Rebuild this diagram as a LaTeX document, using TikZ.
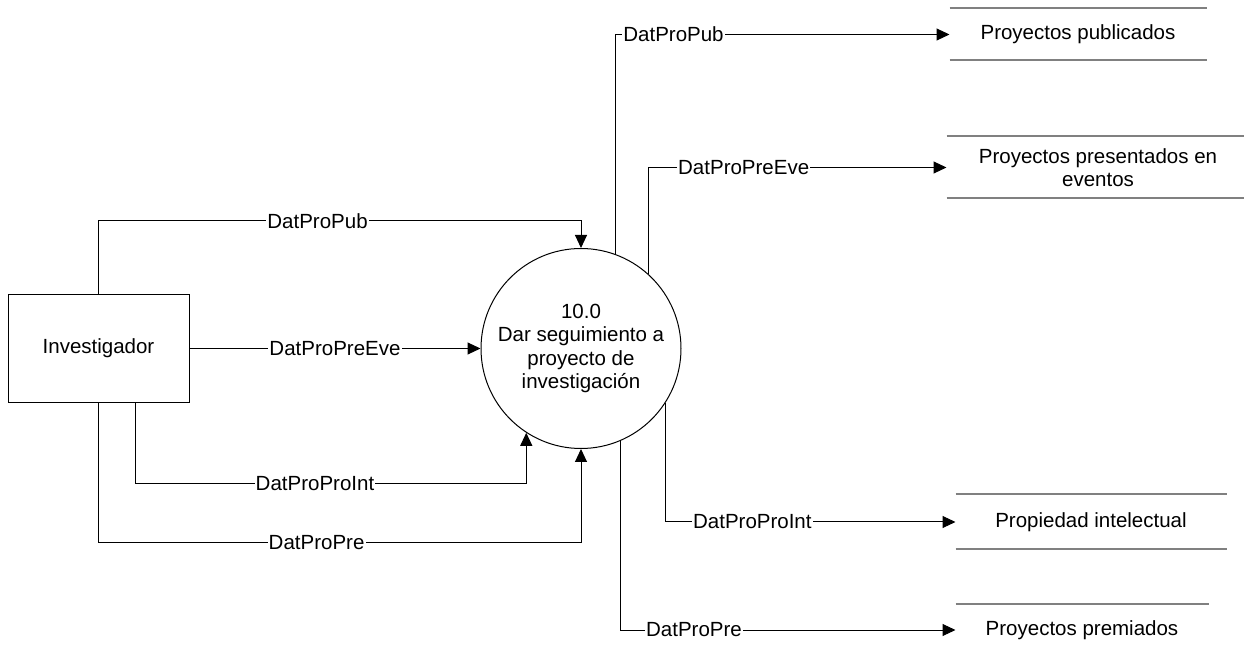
\documentclass[tikz,border=0pt]{standalone}
\usepackage{fontspec}
\setmainfont{Liberation Sans}
\usetikzlibrary{positioning}
\usetikzlibrary{arrows.meta}

\tikzset{
    flow/.style={draw, -{Triangle[length=6.5pt, width=6pt]}},
    lbl/.style={fill=white, inner sep=0.6pt},
    storeline/.style={draw=black!50, line width=1pt, -},
    store/.style={inner sep=0pt, align=center, append after command={
        (\tikzlastnode.north west) edge[storeline] (\tikzlastnode.north east)
        (\tikzlastnode.south west) edge[storeline] (\tikzlastnode.south east)}},
}

\begin{document}
\begin{tikzpicture}[x=0.5pt, y=-0.5pt, line width=0.5pt, font=\fontsize{10.25}{11.75}\selectfont]
    \useasboundingbox (0,0) rectangle (1244,652);

    \node[draw, circle, minimum size=100pt, inner sep=0pt, align=center] (p) at (581,348.5) {10.0\\Dar seguimiento a\\proyecto de\\investigación};
    \node[draw, minimum width=90.5pt, minimum height=54pt, left=145.5pt of p] (e) {Investigador};

    \node[store, minimum width=128pt, minimum height=25.5pt] (d1) at (1078,34.5) {Proyectos publicados};
    \node[store, minimum width=151pt, minimum height=30.5pt] (d2) at (1098,167.5) {Proyectos presentados en\\eventos};
    \node[store, minimum width=135pt, minimum height=27pt] (d3) at (1091,522) {Propiedad intelectual};
    \node[store, minimum width=126pt, minimum height=26pt] (d4) at (1082,630) {Proyectos premiados};

    \draw[flow] (e.north) -- ++(0,-73) -| node[lbl, pos=0.227] {DatProPub} (p.north);
    \draw[flow] (e.east) -- node[lbl] {DatProPreEve} (p.west);
    \draw[flow] ([xshift=18.25pt]e.south) -- ++(0,81) -| node[lbl, pos=0.23] {DatProProInt} (p.237);
    \draw[flow] (e.south) -- ++(0,140) -| node[lbl, pos=0.226] {DatProPre} (p.south);

    \draw[flow] (p.70) |- node[lbl, pos=0.587] {DatProPub} (d1.west);
    \draw[flow] (p.48) |- node[lbl, pos=0.66] {DatProPreEve} (d2.west);
    \draw[flow] (p.-33) |- node[lbl, pos=0.65] {DatProProInt} (d3.west);
    \draw[flow] (p.-67) |- node[lbl, pos=0.61] {DatProPre} (d4.west);
\end{tikzpicture}
\end{document}
